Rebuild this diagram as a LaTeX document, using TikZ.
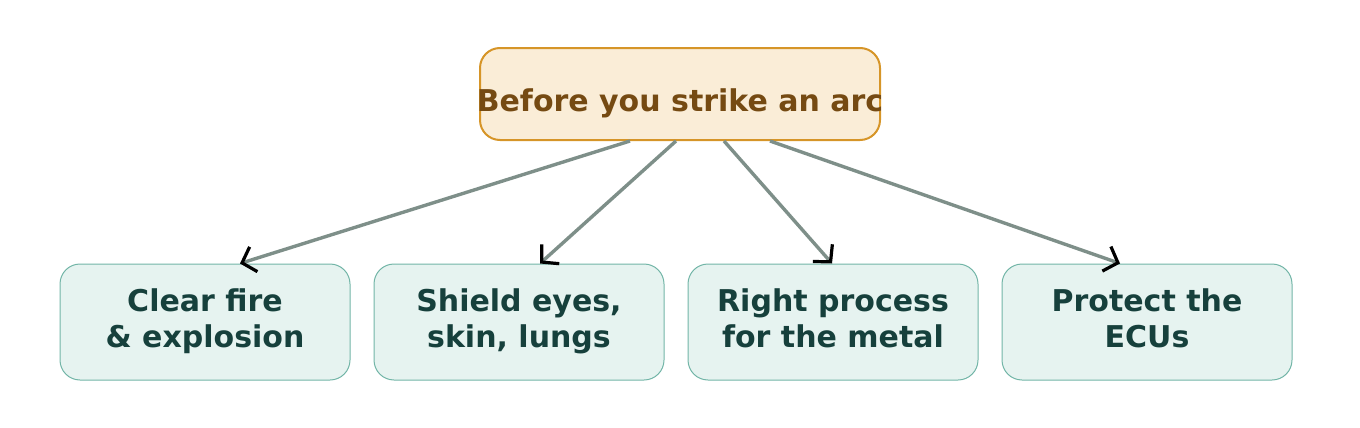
\documentclass[tikz,border=0pt]{standalone}
\usepackage{fontspec}
\setmainfont{DejaVu Sans}
\usetikzlibrary{arrows.meta,positioning}
\definecolor{topfill}{HTML}{FAEDD7}
\definecolor{topline}{HTML}{D69528}
\definecolor{toptext}{HTML}{754A12}
\definecolor{stepfill}{HTML}{E6F3F0}
\definecolor{stepline}{HTML}{72B5A7}
\definecolor{steptext}{HTML}{16403C}
\definecolor{edgegray}{HTML}{7E8F89}

\begin{document}
\begin{tikzpicture}[x=0.5pt,y=-0.5pt,node distance=11.5pt,
  goal/.style={draw=topline,line width=1pt,fill=topfill,rounded corners=10pt,
               minimum width=200pt,minimum height=46pt,inner sep=0pt},
  goaltext/.style={text=toptext,font=\fontsize{15}{18}\selectfont\bfseries,inner sep=0pt},
  check/.style={draw=stepline,line width=0.5pt,fill=stepfill,rounded corners=10pt,
                minimum width=145pt,minimum height=58pt,align=center,inner sep=0pt,
                text depth=3.5pt,
                text=steptext,font=\fontsize{15}{18}\selectfont\bfseries},
  link/.style={draw=edgegray,line width=1.7pt,
               -{Straight Barb[color=black,length=6pt,width=13pt,line width=1.6pt]}}]
\useasboundingbox (0,0) rectangle (1360,428);

\node[goal] (arc) at (680,94) {};
\node[goaltext] (arclabel) at ([yshift=-4.5pt]arc.center) {Before you strike an arc};

\node[check] (fire) at (205,322) {Clear fire\\\& explosion};
\node[check,right=of fire] (eyes) {Shield eyes,\\skin, lungs};
\node[check,right=of eyes] (metal) {Right process\\for the metal};
\node[check,right=of metal] (ecu) {Protect the\\ECUs};

\draw[link] ([xshift=-25pt]arc.south) -- ([xshift=17.5pt]fire.north);
\draw[link] ([xshift=-2pt]arc.south) -- ([xshift=10.5pt]eyes.north);
\draw[link] ([xshift=22pt]arc.south) -- ([xshift=-0.5pt]metal.north);
\draw[link] ([xshift=45pt]arc.south) -- ([xshift=-13.5pt]ecu.north);
\end{tikzpicture}
\end{document}
